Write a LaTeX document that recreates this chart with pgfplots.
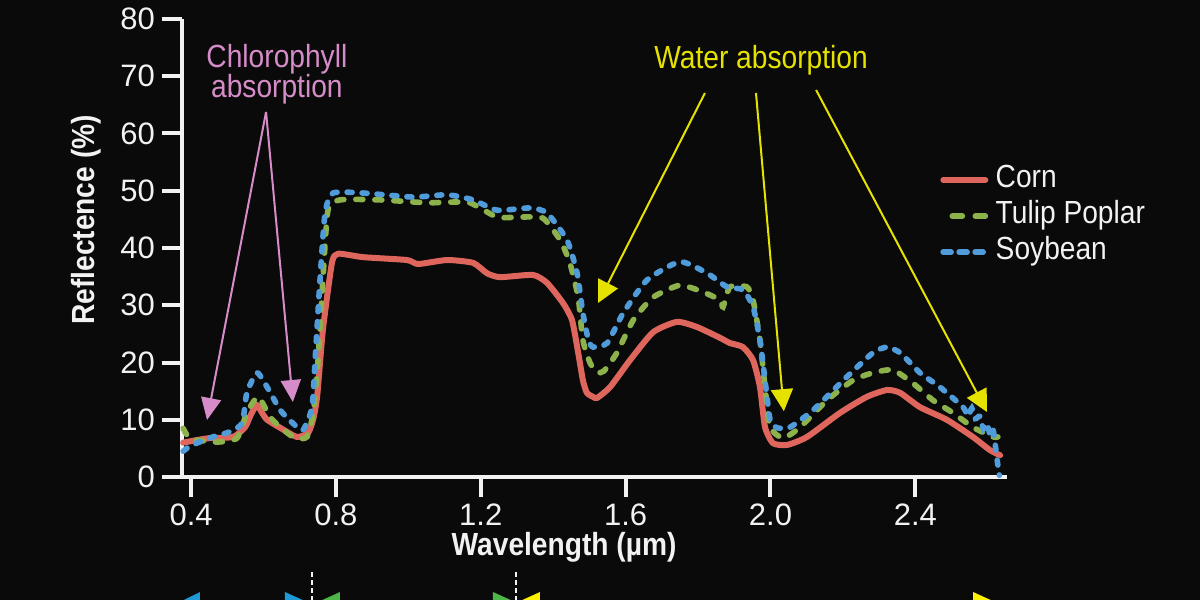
\documentclass[border=0pt]{standalone}
\usepackage{fontspec}
\setmainfont{Liberation Sans}[FakeStretch=0.88]
\newfontfamily\numfont{Liberation Sans}
\usepackage{pgfplots}
\pgfplotsset{compat=1.18}
\usetikzlibrary{arrows.meta}

\definecolor{bg}{RGB}{10,10,10}
\definecolor{corn}{RGB}{222,102,92}
\definecolor{tulip}{RGB}{141,178,76}
\definecolor{soy}{RGB}{80,156,218}
\definecolor{chl}{RGB}{214,140,200}
\definecolor{wat}{RGB}{230,226,0}
\definecolor{visblue}{RGB}{30,154,214}
\definecolor{nirgreen}{RGB}{77,184,72}
\definecolor{swiryel}{RGB}{255,242,0}
\definecolor{fg}{RGB}{242,242,242}

\newcommand\lblfont{\fontsize{16bp}{15bp}\selectfont}

\begin{document}
\begin{tikzpicture}
\fill[bg] (-91bp,-61.5bp) rectangle (509bp,238.5bp);
\begin{axis}[
  scale only axis, width=412.5bp, height=229bp,
  xmin=0.3749, xmax=2.6532, ymin=0, ymax=80,
  axis x line=bottom, axis y line=left,
  axis line style={-, draw=fg, line width=2bp},
  xtick={0.4,0.8,1.2,1.6,2.0,2.4},
  xticklabels={0.4,0.8,1.2,1.6,2.0,2.4},
  ytick={0,10,20,30,40,50,60,70,80},
  yticklabels={0,10,20,30,40,50,60,70,80},
  tick align=outside, major tick length=10bp,
  tick style={draw=fg, line width=2bp},
  ticklabel style={text=fg, font=\numfont\fontsize{15.5bp}{16bp}\selectfont},
  clip=false,
  legend style={at={(axis cs:2.468,55.0)}, anchor=north west, draw=none, fill=none,
    text=fg, font=\lblfont, inner sep=0pt, outer sep=0pt, row sep=0bp, column sep=3.5bp,
    nodes={inner sep=0pt, text height=12.5bp, text depth=5.5bp}},
  legend cell align=left,
]

% spectra
\addplot[forget plot, corn, line width=3bp, line join=round, line cap=round, smooth, tension=0.35] coordinates {
(0.378,6.0) (0.42,6.5) (0.452,6.8) (0.516,7.0) (0.549,8.7) (0.566,11.0) (0.582,12.6)
(0.596,11.2) (0.610,10.0) (0.646,8.6) (0.692,7.0) (0.723,7.7) (0.737,10.0) (0.748,14.0)
(0.764,25.7) (0.789,37.4) (0.806,39.0) (0.875,38.4) (0.996,37.9) (1.027,37.2) (1.107,37.9)
(1.179,37.4) (1.217,35.6) (1.253,34.9) (1.344,35.3) (1.383,33.9) (1.427,30.4) (1.452,27.4)
(1.469,21.7) (1.482,16.9) (1.493,14.7) (1.510,14.0) (1.521,13.8) (1.557,15.7) (1.612,20.4)
(1.676,25.3) (1.742,27.1) (1.797,26.2) (1.861,24.3) (1.888,23.4) (1.924,22.7) (1.952,20.4)
(1.971,15.7) (1.985,8.7) (2.007,5.9) (2.046,5.6) (2.101,7.0) (2.192,11.2) (2.266,14.0)
(2.322,15.2) (2.358,14.7) (2.413,12.2) (2.487,10.0) (2.559,7.0) (2.606,4.7) (2.634,3.8)
};
\addplot[forget plot, tulip, line width=2.8bp, line cap=round, dash pattern=on 3.5bp off 6bp, smooth, tension=0.35] coordinates {
(0.378,8.5) (0.392,7.0) (0.411,6.5) (0.472,6.1) (0.527,6.8) (0.554,11.2) (0.585,14.0)
(0.618,10.5) (0.646,8.7) (0.687,6.8) (0.720,7.0) (0.737,11.2) (0.750,19.9) (0.764,34.4)
(0.778,46.6) (0.811,48.4) (0.922,48.4) (1.051,47.9) (1.107,48.0) (1.170,47.9) (1.245,45.4)
(1.308,45.4) (1.372,45.2) (1.419,41.4) (1.446,37.4) (1.469,31.4) (1.482,23.9) (1.502,19.9)
(1.521,18.3) (1.540,18.5) (1.576,21.7) (1.621,27.4) (1.676,31.4) (1.750,33.5) (1.814,32.3)
(1.861,30.9) (1.869,29.7) (1.888,33.2) (1.935,33.2) (1.952,30.9) (1.971,23.9) (1.985,15.7)
(1.999,8.7) (2.035,6.8) (2.082,8.7) (2.156,13.4) (2.228,16.9) (2.283,18.2) (2.338,18.7)
(2.393,16.4) (2.449,13.4) (2.504,11.2) (2.559,8.7) (2.614,7.0) (2.628,7.0)
};
\addplot[forget plot, soy, line width=2.8bp, line cap=round, dash pattern=on 2.5bp off 5bp, smooth, tension=0.35] coordinates {
(0.378,4.5) (0.40,5.5) (0.460,7.0) (0.507,7.9) (0.541,9.4) (0.554,14.7) (0.582,18.2)
(0.610,15.7) (0.646,11.7) (0.681,9.4) (0.709,8.2) (0.734,12.2) (0.742,19.9) (0.756,34.4)
(0.770,46.1) (0.792,49.6) (0.875,49.6) (1.013,48.9) (1.107,49.3) (1.179,48.4) (1.245,46.6)
(1.336,47.0) (1.383,46.1) (1.438,41.4) (1.466,35.6) (1.482,28.6) (1.497,24.0) (1.510,22.7)
(1.549,23.4) (1.593,28.6) (1.659,34.4) (1.750,37.6) (1.825,35.6) (1.880,33.2) (1.924,32.7)
(1.952,29.7) (1.971,23.9) (1.985,16.9) (1.999,10.0) (2.018,8.6) (2.054,8.7) (2.118,11.7)
(2.211,17.5) (2.283,21.7) (2.322,22.7) (2.358,21.7) (2.413,18.2) (2.468,15.7) (2.532,12.2)
(2.545,10.6) (2.556,12.0) (2.566,10.2) (2.578,10.6) (2.588,8.4) (2.598,9.4) (2.607,7.2)
(2.615,8.2) (2.622,5.0) (2.628,2.0) (2.632,0.3)
};

% legend samples
\addlegendimage{legend image code/.code={\path (0bp,0bp) (24bp,0bp);
  \draw[corn, line width=3bp, line cap=round] (1.5bp,0bp) -- (22.5bp,0bp);}}
\addlegendentry{Corn}
\addlegendimage{legend image code/.code={\path (0bp,0bp) (24bp,0bp);
  \draw[tulip, line width=2.8bp, line cap=round, dash pattern=on 5bp off 6.5bp] (6bp,0bp) -- (22.5bp,0bp);}}
\addlegendentry{Tulip Poplar}
\addlegendimage{legend image code/.code={\path (0bp,0bp) (24bp,0bp);
  \draw[soy, line width=2.8bp, line cap=round, dash pattern=on 4bp off 4bp] (1.4bp,0bp) -- (21.4bp,0bp);}}
\addlegendentry{Soybean}

% axis titles
\node[rotate=90, text=fg, font=\lblfont\bfseries] at (axis cs:0.1098,44.9) {Reflectence (\%)};
\node[text=fg, font=\lblfont\bfseries] at (axis cs:1.430,-12.2) {Wavelength (µm)};

% chlorophyll callout
\node[text=chl, font=\lblfont, align=center] at (axis cs:0.637,70.4) {Chlorophyll\\absorption};
\draw[chl, line width=1bp, -{Triangle[length=11bp,width=10bp]}] (axis cs:0.607,63.76) -- (axis cs:0.444,9.96);
\draw[chl, line width=1bp, -{Triangle[length=11bp,width=10bp]}] (axis cs:0.607,63.76) -- (axis cs:0.681,13.1);

% water callout
\node[text=wat, font=\lblfont] at (axis cs:1.974,72.8) {Water absorption};
\draw[wat, line width=1bp, -{Triangle[length=11bp,width=11bp]}] (axis cs:1.819,67.07) -- (axis cs:1.524,30.4);
\draw[wat, line width=1bp, -{Triangle[length=11bp,width=11bp]}] (axis cs:1.960,67.07) -- (axis cs:2.037,11.5);
\draw[wat, line width=1bp, -{Triangle[length=11bp,width=11bp]}] (axis cs:2.126,67.6) -- (axis cs:2.598,11.35);

% spectral region markers below the axis
\draw[fg, line width=1.3bp, dash pattern=on 2.5bp off 1.5bp] (axis cs:0.734,-16.6) -- (axis cs:0.734,-23);
\draw[fg, line width=1.3bp, dash pattern=on 2.5bp off 1.5bp] (axis cs:1.297,-16.6) -- (axis cs:1.297,-23);
\fill[visblue] (axis cs:0.4246,-20.09) -- (axis cs:0.3693,-21.83) -- (axis cs:0.4246,-23.58) -- cycle;
\fill[visblue] (axis cs:0.6593,-20.09) -- (axis cs:0.7201,-21.83) -- (axis cs:0.6593,-23.58) -- cycle;
\fill[nirgreen] (axis cs:0.8112,-20.09) -- (axis cs:0.7505,-21.83) -- (axis cs:0.8112,-23.58) -- cycle;
\fill[nirgreen] (axis cs:1.2337,-20.09) -- (axis cs:1.2945,-21.83) -- (axis cs:1.2337,-23.58) -- cycle;
\fill[swiryel] (axis cs:1.3635,-20.09) -- (axis cs:1.3028,-21.83) -- (axis cs:1.3635,-23.58) -- cycle;
\fill[swiryel] (axis cs:2.5594,-20.09) -- (axis cs:2.6201,-21.83) -- (axis cs:2.5594,-23.58) -- cycle;
\end{axis}
\pgfresetboundingbox
\path[use as bounding box] (-91bp,-61.5bp) rectangle (509bp,238.5bp);
\end{tikzpicture}
\end{document}
